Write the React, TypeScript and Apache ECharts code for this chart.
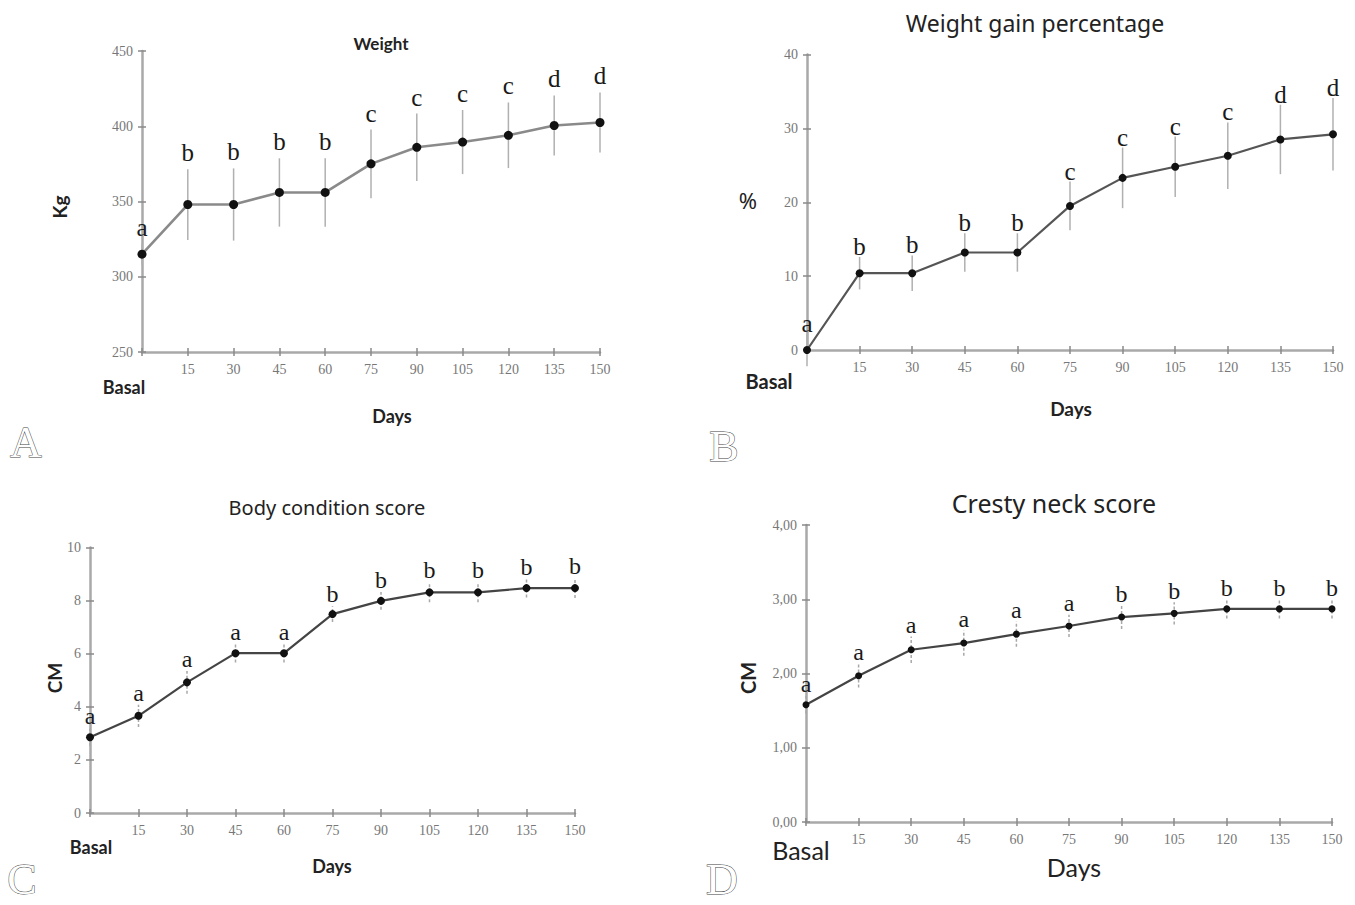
import React, { useEffect, useRef } from "react";
import * as echarts from "echarts";

const days = [0, 15, 30, 45, 60, 75, 90, 105, 120, 135, 150];

const weightKg = [315, 348, 348, 356, 356, 375, 386, 389.5, 394, 400.5, 402.5];
const weightErr = [7, 23.5, 24, 22.7, 22.7, 22.8, 22.4, 21.3, 21.8, 20, 20];
const weightLetters = ["a", "b", "b", "b", "b", "c", "c", "c", "c", "d", "d"];

const gainPct = [0, 10.4, 10.4, 13.2, 13.2, 19.5, 23.3, 24.8, 26.3, 28.5, 29.2];
const gainErr = [2.2, 2.2, 2.4, 2.6, 2.6, 3.3, 4.1, 4.1, 4.5, 4.7, 4.9];
const gainLetters = ["a", "b", "b", "b", "b", "c", "c", "c", "c", "d", "d"];

const bcsScore = [2.85, 3.66, 4.92, 6.02, 6.02, 7.49, 7.99, 8.31, 8.31, 8.47, 8.47];
const bcsErr = [0.33, 0.42, 0.43, 0.35, 0.35, 0.3, 0.33, 0.37, 0.37, 0.35, 0.37];
const bcsLetters = ["a", "a", "a", "a", "a", "b", "b", "b", "b", "b", "b"];

const cnsScore = [1.58, 1.97, 2.32, 2.41, 2.53, 2.64, 2.76, 2.81, 2.87, 2.87, 2.87];
const cnsErr = [0.12, 0.16, 0.18, 0.17, 0.17, 0.15, 0.16, 0.15, 0.13, 0.13, 0.13];
const cnsLetters = ["a", "a", "a", "a", "a", "a", "b", "b", "b", "b", "b"];

type Panel = {
  grid: { left: number; top: number; width: number; height: number };
  yMin: number;
  yMax: number;
  yInterval: number;
  yFmt: (v: number) => string;
  values: number[];
  errs: number[];
  letters: string[];
  lineColor: string;
  lineWidth: number;
  symbolSize: number;
  errColor: string;
  errDash: number[] | null;
  baseGap: number;
  letterFs: number;
};

const SERIF = '"Liberation Serif", "Times New Roman", serif';

const panels: Panel[] = [
  {
    grid: { left: 142, top: 51, width: 458, height: 301 },
    yMin: 250, yMax: 450, yInterval: 50, yFmt: (v) => String(v),
    values: weightKg, errs: weightErr, letters: weightLetters,
    lineColor: "#8a8a8a", lineWidth: 2.6, symbolSize: 9,
    errColor: "#b0b0b0", errDash: null, baseGap: 8, letterFs: 25,
  },
  {
    grid: { left: 807, top: 54.5, width: 526, height: 295.5 },
    yMin: 0, yMax: 40, yInterval: 10, yFmt: (v) => String(v),
    values: gainPct, errs: gainErr, letters: gainLetters,
    lineColor: "#555", lineWidth: 2.2, symbolSize: 8,
    errColor: "#b0b0b0", errDash: null, baseGap: 2, letterFs: 25,
  },
  {
    grid: { left: 90, top: 547.5, width: 485, height: 265.5 },
    yMin: 0, yMax: 10, yInterval: 2, yFmt: (v) => String(v),
    values: bcsScore, errs: bcsErr, letters: bcsLetters,
    lineColor: "#444", lineWidth: 2.2, symbolSize: 8,
    errColor: "#a8a8a8", errDash: [3, 2], baseGap: 4, letterFs: 24,
  },
  {
    grid: { left: 806, top: 525, width: 526, height: 297 },
    yMin: 0, yMax: 4, yInterval: 1, yFmt: (v) => v.toFixed(2).replace(".", ","),
    values: cnsScore, errs: cnsErr, letters: cnsLetters,
    lineColor: "#444", lineWidth: 2.2, symbolSize: 7,
    errColor: "#a8a8a8", errDash: [3, 2], baseGap: 3.5, letterFs: 24,
  },
];

function buildOption() {
  const grid: any[] = [];
  const xAxis: any[] = [];
  const yAxis: any[] = [];
  const series: any[] = [];

  panels.forEach((p, i) => {
    grid.push({ ...p.grid, containLabel: false });
    const axisLine = { show: true, onZero: false, lineStyle: { color: "#a9a9a9", width: 2.5 } };
    const tickStyle = { color: "#8a8a8a", width: 1.5 };
    const labelStyle = { color: "#777", fontFamily: SERIF, fontSize: 14 };
    xAxis.push({
      type: "value", gridIndex: i, position: "bottom", min: 0, max: 150, interval: 15,
      axisLine, axisTick: { show: true, length: 4, lineStyle: tickStyle },
      axisLabel: { ...labelStyle, margin: 10, formatter: (v: number) => (v === 0 ? "" : String(v)) },
      splitLine: { show: false },
    });
    xAxis.push({
      type: "value", gridIndex: i, position: "bottom", min: 0, max: 150, interval: 15,
      axisLine: { show: false, onZero: false },
      axisTick: { show: true, inside: true, length: 4, lineStyle: tickStyle },
      axisLabel: { show: false }, splitLine: { show: false },
    });
    yAxis.push({
      type: "value", gridIndex: i, position: "left", min: p.yMin, max: p.yMax, interval: p.yInterval,
      axisLine, axisTick: { show: true, length: 4, lineStyle: tickStyle },
      axisLabel: { ...labelStyle, margin: 9, formatter: p.yFmt },
      splitLine: { show: false },
    });
    yAxis.push({
      type: "value", gridIndex: i, position: "left", min: p.yMin, max: p.yMax, interval: p.yInterval,
      axisLine: { show: false, onZero: false },
      axisTick: { show: true, inside: true, length: 4, lineStyle: tickStyle },
      axisLabel: { show: false }, splitLine: { show: false },
    });

    const errData = days.map((d, k) => [d, p.values[k] - p.errs[k], p.values[k] + p.errs[k]]);
    series.push({
      type: "custom",
      xAxisIndex: i * 2,
      yAxisIndex: i * 2,
      clip: false,
      z: 3,
      encode: { x: 0, y: [1, 2] },
      data: errData,
      renderItem: (params: any, api: any) => {
        const x = api.value(0);
        const lo = api.coord([x, api.value(1)]);
        const hi = api.coord([x, api.value(2)]);
        const letter = p.letters[params.dataIndex];
        const lineStyle: any = { stroke: p.errColor, lineWidth: 1.5 };
        if (p.errDash) lineStyle.lineDash = p.errDash;
        return {
          type: "group",
          children: [
            { type: "line", shape: { x1: lo[0], y1: lo[1], x2: hi[0], y2: hi[1] }, style: lineStyle },
            {
              type: "text",
              x: hi[0],
              y: hi[1] - p.baseGap - 0.34 * p.letterFs,
              style: {
                text: letter,
                fill: "#1a1a1a",
                font: `${p.letterFs}px ${SERIF}`,
                align: "center",
                verticalAlign: "middle",
                textAlign: "center",
                textVerticalAlign: "middle",
              },
            },
          ],
        };
      },
    });
    series.push({
      type: "line",
      xAxisIndex: i * 2,
      yAxisIndex: i * 2,
      z: 5,
      data: days.map((d, k) => [d, p.values[k]]),
      symbol: "circle",
      symbolSize: p.symbolSize,
      showSymbol: true,
      itemStyle: { color: "#111" },
      lineStyle: { color: p.lineColor, width: p.lineWidth },
      clip: false,
    });
  });

  const SANS_B = 'Lato, "Open Sans", sans-serif';
  const TITLE = '"Noto Sans", "Open Sans", sans-serif';
  const txt = (text: string, x: number, y: number, font: string, extra: any = {}) => ({
    type: "text",
    x, y,
    ...extra,
    style: {
      text, font, fill: "#222",
      textAlign: "center", textVerticalAlign: "middle",
      align: "center", verticalAlign: "middle",
    },
  });
  const outline = (text: string, x: number, y: number) => ({
    type: "text", x, y,
    style: {
      text, font: `44px ${SERIF}`, fill: "#fff", stroke: "#444", lineWidth: 1,
      textAlign: "center", textVerticalAlign: "middle", align: "center", verticalAlign: "middle",
    },
  });

  const graphic = [
    // Panel A
    txt("Weight", 381, 43, `bold 17px ${SANS_B}`),
    txt("Kg", 59, 207, `bold 19px ${SANS_B}`, { rotation: Math.PI / 2 }),
    txt("Basal", 124, 387, `bold 18px ${SANS_B}`),
    txt("Days", 392, 416, `bold 18px ${SANS_B}`),
    outline("A", 26, 442),
    // Panel B
    txt("Weight gain percentage", 1035, 23, `23px ${TITLE}`),
    txt("%", 748, 200, `22px ${TITLE}`),
    txt("Basal", 769, 381, `bold 20px ${SANS_B}`),
    txt("Days", 1071, 408, `bold 19px ${SANS_B}`),
    outline("B", 724, 446),
    // Panel C
    txt("Body condition score", 327, 507, `20px ${TITLE}`),
    txt("CM", 54, 678, `bold 19px ${SANS_B}`, { rotation: Math.PI / 2 }),
    txt("Basal", 91, 847, `bold 18px ${SANS_B}`),
    txt("Days", 332, 866, `bold 18px ${SANS_B}`),
    outline("C", 22, 879),
    // Panel D
    txt("Cresty neck score", 1054, 503, `25px ${TITLE}`),
    txt("CM", 748, 678, `bold 20px ${SANS_B}`, { rotation: Math.PI / 2 }),
    txt("Basal", 801, 850, `25px ${SANS_B}`),
    txt("Days", 1074, 867, `25px ${SANS_B}`),
    outline("D", 722, 879),
  ];

  return {
    animation: false,
    backgroundColor: "#fff",
    grid, xAxis, yAxis, series, graphic,
  };
}

export default function App() {
  const ref = useRef<HTMLDivElement>(null);
  useEffect(() => {
    if (!ref.current) return;
    const chart = echarts.init(ref.current, undefined, { renderer: "svg" });
    chart.setOption(buildOption() as any);
    return () => chart.dispose();
  }, []);
  return (
    <div
      ref={ref}
      style={{ position: "fixed", left: 0, top: 0, width: 1355, height: 905, background: "#fff" }}
    />
  );
}
